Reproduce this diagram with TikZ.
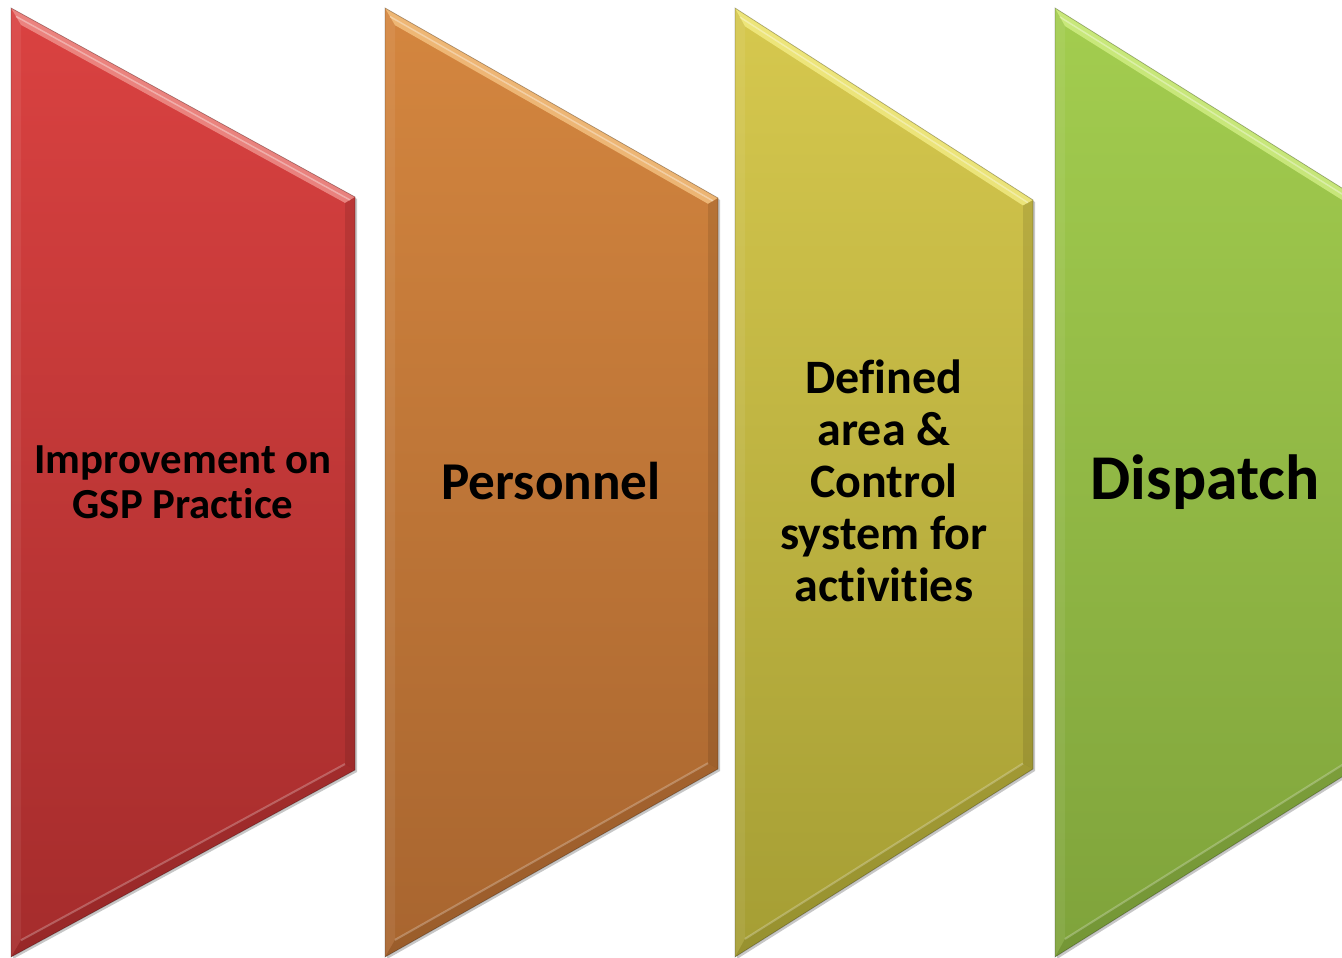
\documentclass[tikz,border=0pt]{standalone}
\usepackage{fontspec}
\setmainfont{Carlito}[RawFeature={-liga,-clig,-dlig}]
\usetikzlibrary{calc}
\definecolor{rtop}{HTML}{DA4241}\definecolor{rbot}{HTML}{A52C2C}\definecolor{rhi}{HTML}{F29A94}
\definecolor{otop}{HTML}{D4863F}\definecolor{obot}{HTML}{A8652F}\definecolor{ohi}{HTML}{F8C888}
\definecolor{ytop}{HTML}{D6C84E}\definecolor{ybot}{HTML}{A59E34}\definecolor{yhi}{HTML}{F6F08A}
\definecolor{gtop}{HTML}{A3CD4F}\definecolor{gbot}{HTML}{7FA33B}\definecolor{ghi}{HTML}{D6F28A}
\newcommand\chevshape[7]{%
  \pgfmathsetmacro\cs{(#3-8)/(#2-#1)}%
  \pgfmathsetmacro\ct{(957-#4)/(#2-#1)}%
  \pgfmathsetmacro\chs{sqrt(1+\cs*\cs)}%
  \pgfmathsetmacro\cht{sqrt(1+\ct*\ct)}%
  \pgfmathsetmacro\ax{#1+10}\pgfmathsetmacro\ay{8+10*\cs+10*\chs}%
  \pgfmathsetmacro\bx{#2-10}\pgfmathsetmacro\by{#3-10*\cs+10*\chs}%
  \pgfmathsetmacro\cy{#4+10*\ct-10*\cht}%
  \pgfmathsetmacro\dy{957-10*\ct-10*\cht}%
  \fill[black,opacity=0.22] (#1+2,10) -- (#2+2,#3+2) -- (#2+2,#4+2) -- (#1+2,959) -- cycle;
  \shade[top color=#5,bottom color=#6] (#1,8) -- (#2,#3) -- (#2,#4) -- (#1,957) -- cycle;
  \fill[white,opacity=0.07] (#1,8) -- (\ax,\ay) -- (\ax,\dy) -- (#1,957) -- cycle;
  \fill[#7,opacity=0.75] (#1,8) -- (#2,#3) -- (\bx,\by) -- (\ax,\ay) -- cycle;
  \draw[white,opacity=0.35,line width=1.5] ($(#1,8)!0.5!(\ax,\ay)$) -- ($(#2,#3)!0.5!(\bx,\by)$);
  \fill[black,opacity=0.10] (#2,#3) -- (#2,#4) -- (\bx,\cy) -- (\bx,\by) -- cycle;
  \fill[black,opacity=0.08] (#1,957) -- (\ax,\dy) -- (\bx,\cy) -- (#2,#4) -- cycle;
  \draw[white,opacity=0.25,line width=2] (\ax,\dy) -- (\bx,\cy);
  \draw[black,opacity=0.25,line width=0.8] (#1,8) -- (#2,#3) -- (#2,#4) -- (#1,957) -- cycle;
}
\tikzset{lbl/.style={text=black,align=center,inner sep=0pt,font=\bfseries}}
\begin{document}
\begin{tikzpicture}[x=1pt,y=-1pt]
\useasboundingbox (0,0) rectangle (1342,958);
\fill[white] (0,0) rectangle (1342,958);
\clip (0,0) rectangle (1342,958);
\chevshape{11}{355}{197}{770}{rtop}{rbot}{rhi}
\chevshape{385}{718}{198}{769}{otop}{obot}{ohi}
\chevshape{735}{1033}{200}{769}{ytop}{ybot}{yhi}
\chevshape{1055}{1353}{195}{770}{gtop}{gbot}{ghi}
\node[lbl,font=\bfseries\fontsize{42.8}{45}\selectfont] (t1) at (183,482) {Improvement on\\GSP Practice};
\node[lbl,font=\bfseries\fontsize{53.2}{60}\selectfont] (t2) at (551,481) {Personnel};
\node[lbl,font=\bfseries\fontsize{48}{52}\selectfont] (t3) at (884,481) {Defined\\area \&\\Control\\system for\\activities};
\node[lbl,font=\bfseries\fontsize{63.8}{70}\selectfont] (t4) at (1205,482) {Dispatch};
\end{tikzpicture}
\end{document}
